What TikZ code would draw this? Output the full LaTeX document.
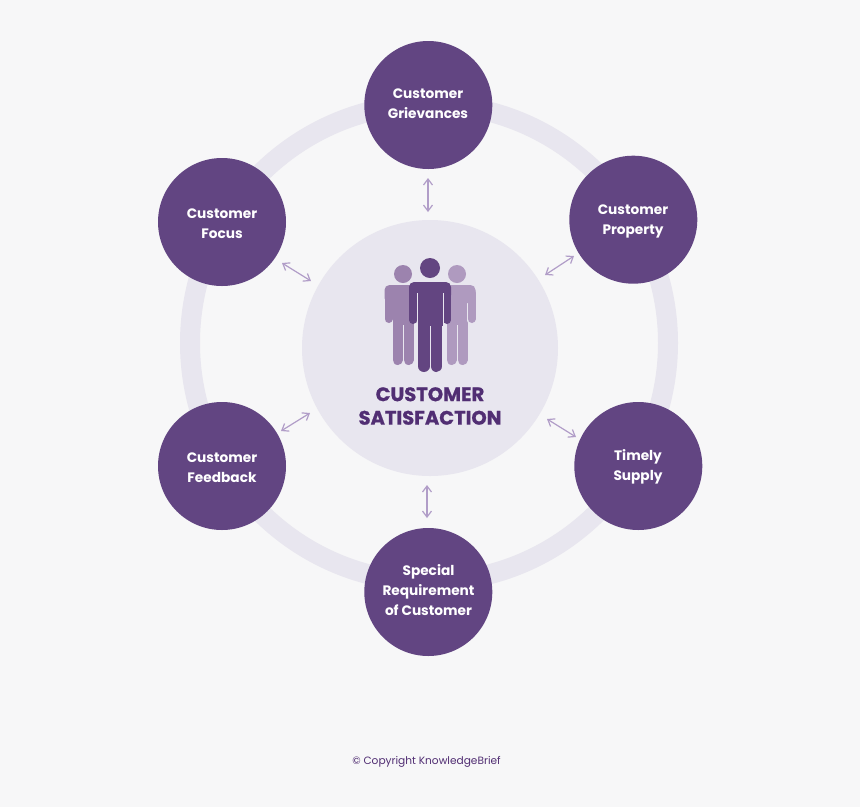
\documentclass[tikz,border=0pt]{standalone}
\usepackage{fontspec}
\setmainfont{Poppins}
\usetikzlibrary{arrows.meta}
\definecolor{bgc}{HTML}{F7F7F8}
\definecolor{ringc}{HTML}{E8E6EF}
\definecolor{discc}{HTML}{624582}
\definecolor{headc}{HTML}{512E73}
\definecolor{arrc}{HTML}{B19DC8}
\definecolor{pmid}{HTML}{634581}
\definecolor{pleft}{HTML}{9C83AE}
\definecolor{pright}{HTML}{AF9ABF}
\tikzset{
  disc/.style={circle,fill=discc,minimum size=128pt,inner sep=0pt},
  disctext/.style={text=white,align=center,inner sep=0pt,
    font=\fontsize{13.7}{20}\selectfont\bfseries},
  link/.style={arrc,line width=1.2pt,{Straight Barb[length=6pt,width=9pt]}-{Straight Barb[length=6pt,width=9pt]}},
}
\newcommand{\personfig}[8]{% colour, cx, hy, hr, half width, top, arm bottom, leg width
  \begin{scope}[#1]
    \fill (#2,#3) circle (#4);
    \fill[rounded corners=5pt] ({#2-#5},#6) rectangle ({#2+#5},{#6+18});
    \fill ({#2-#5+8.5},{#6+8}) rectangle ({#2+#5-8.5},{#7+2});
    \draw[line width=8pt,line cap=round] ({#2-#5+4},{#6+8}) -- ({#2-#5+4},{#7-4});
    \draw[line width=8pt,line cap=round] ({#2+#5-4},{#6+8}) -- ({#2+#5-4},{#7-4});
    \draw[line width=#8pt,line cap=round] ({#2-0.5-#8/2},#7) -- ({#2-0.5-#8/2},{\footy-#8/2});
    \draw[line width=#8pt,line cap=round] ({#2+0.5+#8/2},#7) -- ({#2+0.5+#8/2},{\footy-#8/2});
  \end{scope}
}
\begin{document}
\begin{tikzpicture}[x=1pt,y=-1pt]
\useasboundingbox (0,0) rectangle (860,807);
\fill[bgc] (0,0) rectangle (860,807);
\draw[ringc,line width=20pt] (429,343) circle (239);
\node[circle,fill=ringc,minimum size=256pt,inner sep=0pt] (hub) at (430,348) {};
\def\footy{365}
\personfig{pleft}{403}{274}{9}{18.5}{285}{323}{10}
\personfig{pright}{457}{274}{9}{18.5}{285}{323}{10}
\def\footy{372}
\personfig{pmid}{430}{268}{10}{21}{282}{324}{11.5}
\draw[ringc,line width=0.7pt] (417,293) -- (417,324) (443,293) -- (443,324);
\node[text=headc,align=center,inner sep=0pt,font=\fontsize{19.5}{23.5}\selectfont\bfseries\addfontfeature{FakeBold=1}] (title) at (430,406) {CUSTOMER\\SATISFACTION};
\node[disc] (griev) at (428.3,105) {};
\node[disc] (prop) at (633.3,219.7) {};
\node[disc] (supply) at (638.3,466) {};
\node[disc] (spec) at (428.3,592) {};
\node[disc] (feed) at (222,466) {};
\node[disc] (focus) at (222,222) {};
\node[disctext] (griev-t) at (428,103.5) {Customer\\Grievances};
\node[disctext] (prop-t) at (633,221.5) {Customer\\Property};
\node[disctext] (supply-t) at (638,467) {Timely\\Supply};
\node[disctext] (spec-t) at (428.5,590) {Special\\Requirement\\of Customer};
\node[disctext] (feed-t) at (222,467.5) {Customer\\Feedback};
\node[disctext] (focus-t) at (222,223.5) {Customer\\Focus};
\coordinate (a1) at (428,178); \coordinate (b1) at (428,212);
\coordinate (a2) at (574,256); \coordinate (b2) at (545,275);
\coordinate (a3) at (576,437); \coordinate (b3) at (547,419);
\coordinate (a4) at (427,518); \coordinate (b4) at (427,485);
\coordinate (a5) at (281,431); \coordinate (b5) at (310,413);
\coordinate (a6) at (282,263); \coordinate (b6) at (311,281);
\foreach \i in {1,...,6} \draw[link] (a\i) -- (b\i);
\node[text=headc,inner sep=0pt,font=\fontsize{10.6}{13}\selectfont] (copy) at (426.5,761.5) {© Copyright KnowledgeBrief};
\end{tikzpicture}
\end{document}
